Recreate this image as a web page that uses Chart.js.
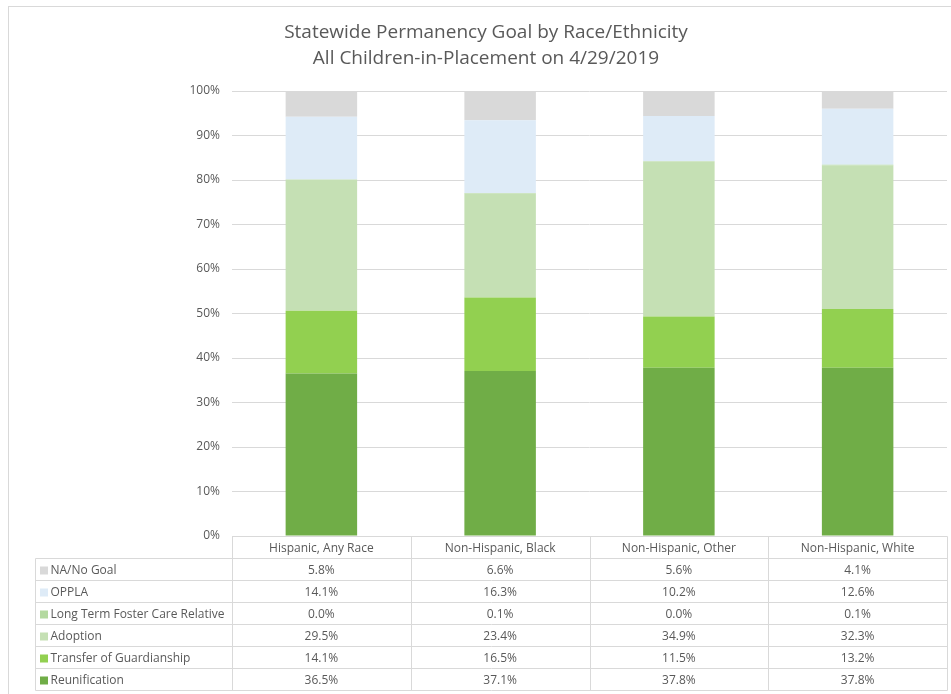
<!DOCTYPE html>
<html>
<head>
<meta charset="utf-8">
<script src="https://cdn.jsdelivr.net/npm/chart.js@4/dist/chart.umd.min.js"></script>
<style>
  html, body { margin: 0; padding: 0; background: #fff; }
  #wrap { position: relative; width: 951px; height: 694px; }
  #frame { position: absolute; left: 8px; top: 6px; right: -10px; bottom: -10px;
           border-left: 1px solid #d9d9d9; border-top: 1px solid #d9d9d9; pointer-events: none; }
</style>
</head>
<body>
<div id="wrap">
  <canvas id="chart"></canvas>
  <div id="frame"></div>
</div>
<script>
const titleLines = ['Statewide Permanency Goal by Race/Ethnicity', 'All Children-in-Placement on 4/29/2019'];
const categories = ['Hispanic, Any Race', 'Non-Hispanic, Black', 'Non-Hispanic, Other', 'Non-Hispanic, White'];

// values in percent, per category
const reunification = [36.5, 37.1, 37.8, 37.8];
const transferOfGuardianship = [14.1, 16.5, 11.5, 13.2];
const adoption = [29.5, 23.4, 34.9, 32.3];
const longTermFosterCareRelative = [0.0, 0.1, 0.0, 0.1];
const oppla = [14.1, 16.3, 10.2, 12.6];
const naNoGoal = [5.8, 6.6, 5.6, 4.1];

const textColor = '#595959';
const lineColor = '#d9d9d9';
const fontFamily = '"Open Sans", "Noto Sans", sans-serif';

const datasets = [
  { label: 'Reunification', data: reunification, backgroundColor: '#70ad47' },
  { label: 'Transfer of Guardianship', data: transferOfGuardianship, backgroundColor: '#92d050' },
  { label: 'Adoption', data: adoption, backgroundColor: '#c5e0b4' },
  { label: 'Long Term Foster Care Relative', data: longTermFosterCareRelative, backgroundColor: '#b4d9a0' },
  { label: 'OPPLA', data: oppla, backgroundColor: '#deebf7' },
  { label: 'NA/No Goal', data: naNoGoal, backgroundColor: '#d9d9d9' }
];

// title + data table drawn under the plot, aligned on the x scale
const tablePlugin = {
  id: 'dataTable',
  afterDraw(chart) {
    const ctx = chart.ctx;
    const area = chart.chartArea;
    const x = chart.scales.x;
    const colW = (area.right - area.left) / categories.length;
    const rowH = 22;
    const legendLeft = 35.5;
    const top = Math.round(area.bottom) + 0.5;
    const rows = datasets.slice().reverse();
    const bottom = top + rowH * (rows.length + 1);
    const left = Math.round(area.left) + 0.5;
    const right = Math.round(area.right) + 0.5;

    ctx.save();
    ctx.fillStyle = textColor;
    ctx.font = '19px ' + fontFamily;
    ctx.textAlign = 'center';
    ctx.textBaseline = 'middle';
    ctx.fillText(titleLines[0], 486, 33);
    ctx.fillText(titleLines[1], 486, 59);

    ctx.strokeStyle = lineColor;
    ctx.lineWidth = 1;
    ctx.beginPath();
    ctx.moveTo(left, top); ctx.lineTo(right, top);
    for (let r = 1; r <= rows.length + 1; r++) {
      ctx.moveTo(legendLeft, top + r * rowH);
      ctx.lineTo(right, top + r * rowH);
    }
    ctx.moveTo(legendLeft, top + rowH); ctx.lineTo(legendLeft, bottom);
    for (let i = 0; i <= categories.length; i++) {
      const cx = Math.round(area.left + i * colW) + 0.5;
      ctx.moveTo(cx, top); ctx.lineTo(cx, bottom);
    }
    ctx.stroke();

    ctx.font = '12px ' + fontFamily;
    ctx.fillStyle = textColor;
    categories.forEach((c, i) => {
      ctx.fillText(c, x.getPixelForValue(i), top + rowH / 2 + 1);
    });
    rows.forEach((ds, r) => {
      const cy = top + (r + 1) * rowH + rowH / 2 + 1;
      ctx.fillStyle = ds.backgroundColor;
      ctx.fillRect(legendLeft + 4.5, cy - 4, 8, 8);
      ctx.fillStyle = textColor;
      ctx.textAlign = 'left';
      ctx.fillText(ds.label, legendLeft + 15, cy);
      ctx.textAlign = 'center';
      ds.data.forEach((v, i) => {
        ctx.fillText(v.toFixed(1) + '%', x.getPixelForValue(i), cy);
      });
    });
    ctx.restore();
  }
};

new Chart(document.getElementById('chart'), {
  type: 'bar',
  data: { labels: categories, datasets },
  plugins: [tablePlugin],
  options: {
    responsive: true,
    maintainAspectRatio: false,
    animation: false,
    events: [],
    layout: { padding: { top: 91, left: 150, right: 4, bottom: 150 } },
    datasets: { bar: { categoryPercentage: 1, barPercentage: 0.4 } },
    plugins: {
      legend: { display: false },
      tooltip: { enabled: false },
      title: { display: false }
    },
    scales: {
      x: {
        stacked: true,
        ticks: { display: false },
        grid: { display: false },
        border: { display: false }
      },
      y: {
        stacked: true,
        min: 0,
        max: 100,
        afterFit: (s) => { s.width = 82; },
        ticks: {
          stepSize: 10,
          padding: 12,
          color: textColor,
          font: { family: fontFamily, size: 12 },
          callback: (v) => v + '%'
        },
        grid: { color: lineColor, drawTicks: false },
        border: { display: false }
      }
    }
  }
});
</script>
</body>
</html>
